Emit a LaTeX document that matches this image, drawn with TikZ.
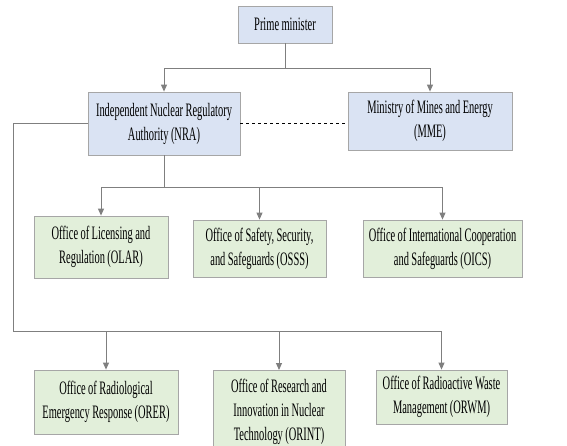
\documentclass[tikz,border=0pt]{standalone}
\usepackage{fontspec}
\setmainfont{Liberation Serif}[FakeStretch=0.55]
\usetikzlibrary{arrows.meta,calc}
\definecolor{boxblue}{HTML}{DAE3F3}
\definecolor{boxgreen}{HTML}{E2EFDA}
\definecolor{edgegray}{HTML}{A6A6A6}
\definecolor{linegray}{HTML}{7F7F7F}
\newcommand\boxfont{\rmfamily\fontsize{19}{24}\selectfont\spaceskip=2.4pt plus 1pt\relax}
\begin{document}
\begin{tikzpicture}[x=1pt, y=-1pt,
    box/.style={draw=edgegray, line width=0.8pt, align=center, inner sep=0pt,
        font=\boxfont, text=black},
    gov/.style={box, fill=boxblue},
    office/.style={box, fill=boxgreen},
    arr/.style={draw=linegray, line width=1pt, -{Triangle[length=7pt,width=6pt]}}]
    \useasboundingbox (0,0) rectangle (567,445);

    \node[gov, minimum width=94, minimum height=37] (pm) at (285,24.5) {Prime minister};
    \node[gov, minimum width=152, minimum height=63] (nra) at (164,123.5) {Independent Nuclear Regulatory\\Authority (NRA)};
    \node[gov, minimum width=164, minimum height=58] (mme) at (430,121) {Ministry of Mines and Energy\\(MME)};

    \node[office, minimum width=134, minimum height=62] (olar) at (101,247) {Office of Licensing and\\Regulation (OLAR)};
    \node[office, minimum width=133, minimum height=57] (osss) at (259.5,248.5) {Office of Safety, Security,\\and Safeguards (OSSS)};
    \node[office, minimum width=159, minimum height=57] (oics) at (442.5,248.5) {Office of International Cooperation\\and Safeguards (OICS)};

    \node[office, minimum width=144, minimum height=64] (orer) at (106,402) {Office of Radiological\\Emergency Response (ORER)};
    \node[office, minimum width=132, minimum height=82, anchor=north] (orint) at (279,370) {Office of Research and\\Innovation in Nuclear\\Technology (ORINT)};
    \node[office, minimum width=131, minimum height=54] (orwm) at (441.5,397) {Office of Radioactive Waste\\Management (ORWM)};

    % top level
    \coordinate (pmjoin) at ($(pm.south)+(0,25)$);
    \draw[arr] (pm.south) -- (pmjoin) -| (nra.north);
    \draw[arr] (pmjoin) -| (mme.north);
    \draw[dashed, line width=1pt] (nra.east) -- (nra.east -| mme.west);

    % first row of offices
    \coordinate (nrajoin) at ($(nra.south)+(0,32)$);
    \draw[arr] (nra.south) -- (nrajoin) -| (olar.north);
    \draw[arr] (nrajoin) -| (osss.north);
    \draw[arr] (nrajoin) -| (oics.north);

    % second row of offices
    \coordinate (leftbus) at (13,331);
    \draw[arr] (nra.west) -| (leftbus) -| (orwm.north);
    \draw[arr] (leftbus -| orer.north) -- (orer.north);
    \draw[arr] (leftbus -| orint.north) -- (orint.north);
\end{tikzpicture}
\end{document}
